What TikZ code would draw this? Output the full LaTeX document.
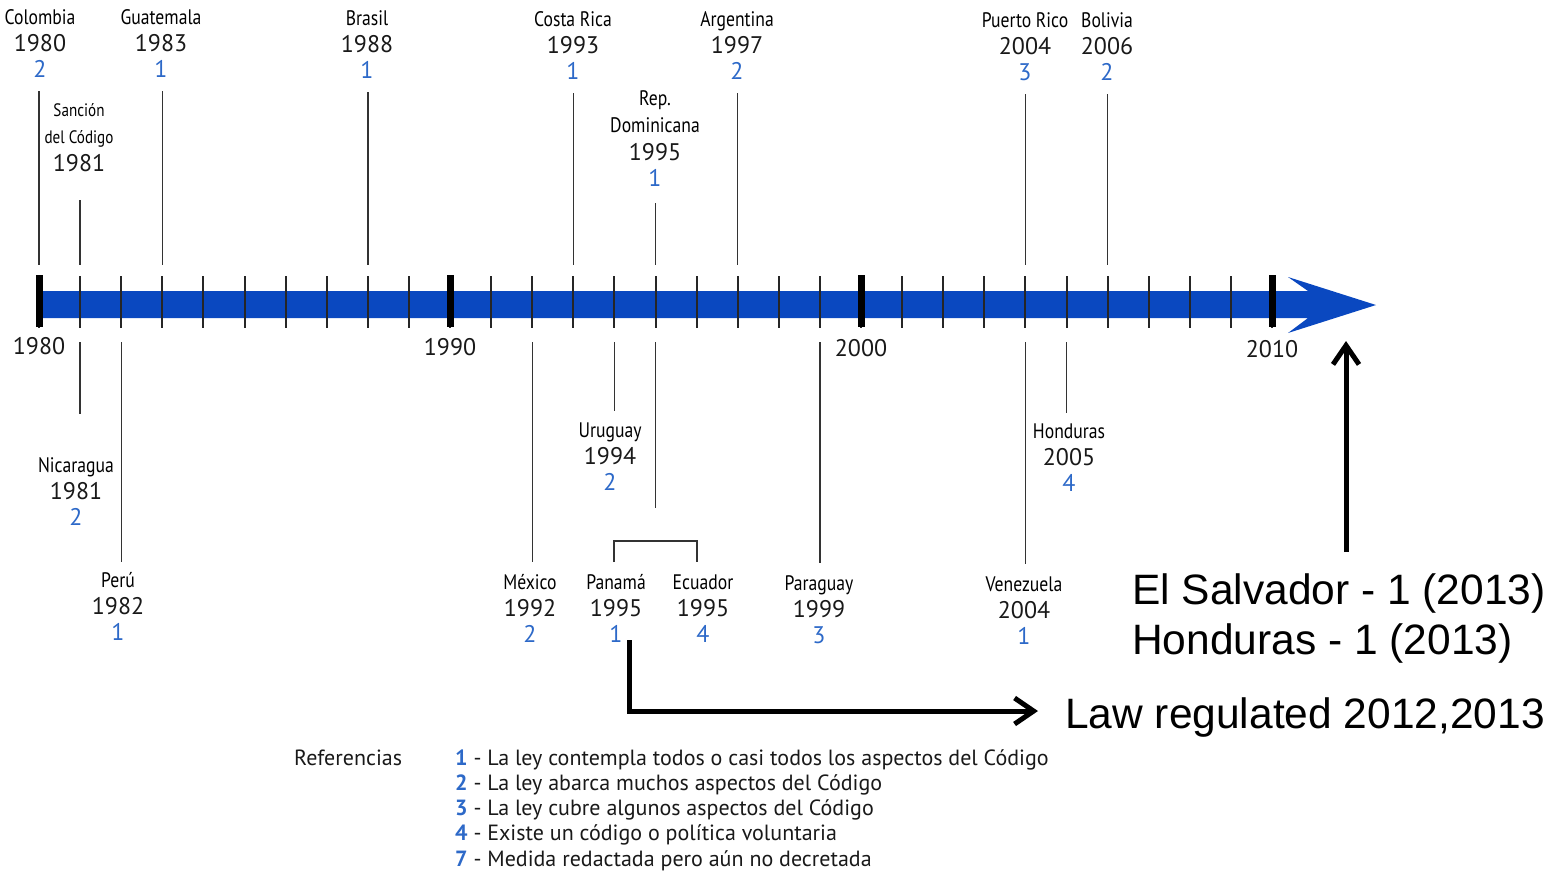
\documentclass[tikz,border=0pt]{standalone}
\usepackage{fontspec}
\usepackage{xcolor}
\usepackage{tikz}
\usetikzlibrary{positioning,arrows.meta}
\newfontfamily\namefont[FakeStretch=0.84]{PT Sans}
\newfontfamily\yearfont{PT Sans}
\newfontfamily\arialfont{Liberation Sans}
\definecolor{axisblue}{RGB}{10,72,192}
\definecolor{numblue}{RGB}{45,105,200}
\tikzset{
  cname/.style={font=\namefont\fontsize{21}{24}\selectfont, anchor=base, inner sep=0pt, text=black},
  csmall/.style={cname, font=\namefont\fontsize{18}{22}\selectfont},
  cyear/.style={font=\yearfont\fontsize{24}{26}\selectfont, anchor=base, inner sep=0pt, text=black!90},
  cnum/.style={cyear, text=numblue},
  conn/.style={draw=black!80, line width=1.4pt},
  tickmark/.style={draw=black!85, line width=2pt},
  decade/.style={draw=black, line width=7pt},
  bigtext/.style={font=\arialfont\fontsize{42.5}{50}\selectfont, anchor=base west, inner sep=0pt},
  legend/.style={font=\yearfont\fontsize{22}{25}\selectfont, anchor=base west, inner sep=0pt, text=black!90},
  bigarrow/.style={line width=5pt, -{Straight Barb[length=19pt,width=26pt]}}
}
% country, year and reference number, one under the other
\newcommand{\ctry}[6]{%
  \node[cname] (#1) at (#2,#3) {#4};
  \node[cyear] (#1-yr) at ([yshift=-27pt]#1.base) {#5};
  \node[cnum] (#1-nr) at ([yshift=-26pt]#1-yr.base) {#6};}

\begin{document}
\begin{tikzpicture}[x=1pt, y=-1pt]
\useasboundingbox (0,0) rectangle (1549,871);

% time axis
\fill[axisblue] (39,291) -- (1308,291) -- (1288,277) -- (1376,305) -- (1288,333) -- (1308,318) -- (39,318) -- cycle;
\foreach \i [evaluate=\i as \yr using int(1980+\i)] in {0,...,30} {
  \coordinate (yr\yr) at (39+41.1*\i,304);
  \draw[tickmark] (yr\yr |- 0,276) -- (yr\yr |- 0,328);
}
\foreach \d in {1980,1990,2000,2010}
  \draw[decade] (yr\d |- 0,275) -- (yr\d |- 0,327);
\foreach \d/\yy in {1980/354,1990/355,2000/356,2010/357}
  \node[cyear] (lab\d) at (yr\d |- 0,\yy) {\d};
\coordinate (axtop) at (0,265);
\coordinate (axbot) at (0,342);

% above the axis
\ctry{colombia}{40}{24}{Colombia}{1980}{2}
\ctry{guatemala}{161}{24}{Guatemala}{1983}{1}
\ctry{brasil}{367}{25}{Brasil}{1988}{1}
\ctry{costarica}{573}{26}{Costa Rica}{1993}{1}
\ctry{argentina}{737}{26}{Argentina}{1997}{2}
\ctry{puertorico}{1025}{27}{Puerto Rico}{2004}{3}
\ctry{bolivia}{1107}{27}{Bolivia}{2006}{2}
\node[csmall] (sancion) at (79,116) {Sanción};
\node[csmall] (sancion-2) at ([yshift=-27pt]sancion.base) {del Código};
\node[cyear] (sancion-yr) at ([yshift=-28pt]sancion-2.base) {1981};
\node[cname] (repdom) at (655,105) {Rep.};
\node[cname] (repdom-2) at ([yshift=-27pt]repdom.base) {Dominicana};
\node[cyear] (repdom-yr) at ([yshift=-28pt]repdom-2.base) {1995};
\node[cnum] (repdom-nr) at ([yshift=-26pt]repdom-yr.base) {1};

\foreach \nm/\yr/\gap in {colombia-nr/1980/14, sancion-yr/1981/29, guatemala-nr/1983/14,
    brasil-nr/1988/14, costarica-nr/1993/14, repdom-nr/1995/17, argentina-nr/1997/14,
    puertorico-nr/2004/14, bolivia-nr/2006/14}
  \draw[conn, shorten <=\gap pt] (yr\yr |- \nm.south) -- (yr\yr |- axtop);

% below the axis
\ctry{nicaragua}{76}{472}{Nicaragua}{1981}{2}
\ctry{peru}{118}{587}{Perú}{1982}{1}
\ctry{mexico}{530}{589}{México}{1992}{2}
\ctry{uruguay}{610}{437}{Uruguay}{1994}{2}
\ctry{panama}{616}{589}{Panamá}{1995}{1}
\ctry{ecuador}{703}{589}{Ecuador}{1995}{4}
\ctry{paraguay}{819}{590}{Paraguay}{1999}{3}
\ctry{venezuela}{1024}{591}{Venezuela}{2004}{1}
\ctry{honduras}{1069}{438}{Honduras}{2005}{4}

\foreach \nm/\yr/\gap in {nicaragua/1981/43, peru/1982/10, mexico/1992/12, uruguay/1994/11,
    paraguay/1999/12, venezuela/2004/12, honduras/2005/10}
  \draw[conn, shorten >=\gap pt] (yr\yr |- axbot) -- (yr\yr |- \nm.north);

\coordinate (brk-l) at (614,541);
\coordinate (brk-r) at (697,541);
\coordinate (brk-stem) at (yr1995 |- 0,508);
\draw[conn] (yr1995 |- axbot) -- (brk-stem);
\draw[conn] (brk-l |- 0,562) -- (brk-l) -- (brk-r) -- (brk-r |- 0,562);

% notes on the right
\node[bigtext] (salvador) at (1132,604) {El Salvador - 1 (2013)};
\node[bigtext] (hond13) at (1132,654) {Honduras - 1 (2013)};
\node[bigtext] (law) at (1065,728) {Law regulated 2012,2013};
\coordinate (up-foot) at (1346,552);
\coordinate (up-tip) at (1346,341);
\draw[bigarrow] (up-foot) -- (up-tip);
\coordinate (law-start) at (629,640);
\draw[bigarrow, shorten >=27pt] (law-start) |- ([yshift=6pt]law.west);

% legend
\node[legend] (ref) at (294,765) {Referencias};
\foreach \n/\t [count=\k from 0] in {1/La ley contempla todos o casi todos los aspectos del Código,
    2/La ley abarca muchos aspectos del Código, 3/La ley cubre algunos aspectos del Código,
    4/Existe un código o política voluntaria, 7/Medida redactada pero aún no decretada}
  \node[legend] (leg\n) at (455,765+25.3*\k) {{\bfseries\color{numblue}\n} - \t};
\end{tikzpicture}
\end{document}
